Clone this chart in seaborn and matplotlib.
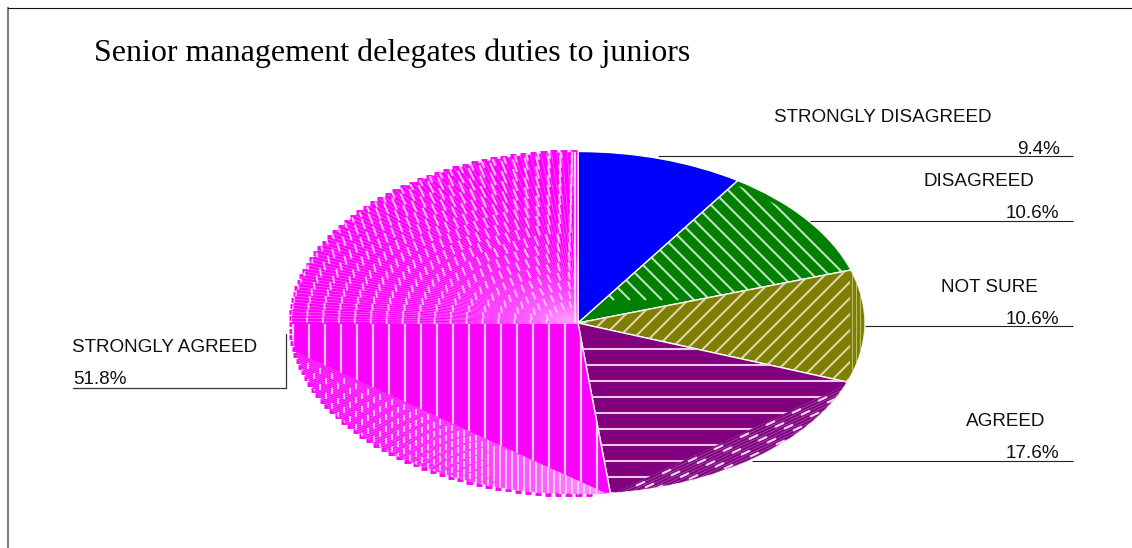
import numpy as np
import matplotlib
matplotlib.use("Agg")
import matplotlib.pyplot as plt
from matplotlib.collections import LineCollection
from matplotlib.patches import Polygon
import seaborn as sns

title = "Senior management delegates duties to juniors"
categories = ["STRONGLY DISAGREED", "DISAGREED", "NOT SURE", "AGREED", "STRONGLY AGREED"]
shares = [9.4, 10.6, 10.6, 17.6, 51.8]
share_labels = ["9.4%", "10.6%", "10.6%", "17.6%", "51.8%"]
colors = sns.color_palette(["#0000ff", "#008000", "#808000", "#800080", "#ff00ff"])

sns.set_theme(style="white")
W, H = 1132, 548
DPI = 100
fig = plt.figure(figsize=(W / DPI, H / DPI), dpi=DPI, facecolor="white")

# frame axes whose data coordinates are the picture's pixels
L, T = 8.0, 7.5
ax = fig.add_axes([L / W, 0, 1 - L / W, 1 - T / H])
ax.set_xlim(L, W)
ax.set_ylim(H, T)
ax.set_xticks([]); ax.set_yticks([])
sns.despine(ax=ax, top=False, left=False, right=True, bottom=True)
ax.spines["top"].set_color("#111111"); ax.spines["top"].set_linewidth(0.8)
ax.spines["left"].set_color("#808080"); ax.spines["left"].set_linewidth(1.5)

ax.text(94, 53, title, family="Liberation Serif", fontsize=23.0, color="black", va="center", ha="left")

SANS = "Liberation Sans"
FS = 13.6
label_spec = [
    (774, 118, "left", 1060, 149, 658, 156, 1073),
    (979, 182, "center", 1059, 213, 805, 220.5, 1073),
    (989, 288, "center", 1059, 319, 864, 326, 1073),
    (1006, 421, "center", 1059, 454, 752, 460.5, 1073),
]
for cat, lab, (lx, ly, lha, px, py, x0, yy, x1) in zip(categories, share_labels, label_spec):
    ax.text(lx, ly, cat, family=SANS, fontsize=FS, color="#111111", ha=lha, va="center")
    ax.text(px, py, lab, family=SANS, fontsize=FS, color="#111111", ha="right", va="center")
    ax.plot([x0, x1], [yy, yy], color="#222222", lw=0.8, solid_capstyle="butt")
ax.text(72, 348, categories[4], family=SANS, fontsize=FS, color="#111111", ha="left", va="center")
ax.text(73, 379, share_labels[4], family=SANS, fontsize=FS, color="#111111", ha="left", va="center")
ax.plot([73, 286, 286], [388, 388, 334], color="#333333", lw=0.9)

# elliptical pie
CX, CY, RX, RY = 578, 323, 287.0, 171.5
PAD = 1.25
pie_ax = fig.add_axes([(CX - PAD * RX) / W, 1 - (CY + PAD * RY) / H, 2 * PAD * RX / W, 2 * PAD * RY / H])
wedges, _ = pie_ax.pie(shares, colors=colors, startangle=90, counterclock=False, radius=1,
                       wedgeprops=dict(edgecolor="white", linewidth=1.0))
pie_ax.set_aspect("auto")
pie_ax.set_xlim(-PAD, PAD)
pie_ax.set_ylim(-PAD, PAD)
pie_ax.patch.set_alpha(0)
for w in wedges:
    w.set_zorder(1)

px_tr = ax.transData
PALE = "#ecdcc8"


def clipped(segs, color, lw, alpha, region, z=2):
    lc = LineCollection(segs, colors=color, linewidths=lw, alpha=alpha, transform=px_tr,
                        zorder=z, capstyle="butt")
    pie_ax.add_collection(lc, autolim=False)
    poly = Polygon(region, closed=True, transform=px_tr, fill=False, lw=0)
    pie_ax.add_patch(poly)
    poly.set_visible(False)
    lc.set_clip_path(poly)
    return lc


def full_wedge(i, scale=1.0, steps=120):
    """Pixel outline of wedge i, from the shares."""
    c = np.cumsum([0] + shares) / sum(shares) * 2 * np.pi
    t = np.linspace(c[i], c[i + 1], steps)
    return np.vstack([[CX, CY], np.column_stack([CX + scale * RX * np.sin(t), CY - scale * RY * np.cos(t)])])


def cut(pts, a, b, keep_side):
    """Clip a polygon by the line a-b; +1 keeps the positive cross-product side."""
    out = []
    a = np.array(a, float); b = np.array(b, float)
    d = b - a
    side = lambda p: keep_side * (d[0] * (p[1] - a[1]) - d[1] * (p[0] - a[0]))
    n = len(pts)
    for i in range(n):
        p, q = pts[i], pts[(i + 1) % n]
        sp, sq = side(p), side(q)
        if sp >= 0:
            out.append(p)
        if sp * sq < 0:
            out.append(p + (q - p) * sp / (sp - sq))
    return np.array(out)


# green: backslash stripes reaching nearly to the rim
clipped([[(o, 150), (o + 150, 300)] for o in np.arange(-800, 1400, 16)], "#d8ead8", 1.5, 0.9, full_wedge(1, 0.975))

# olive: forward stripes, with a dense outer band
o_in = cut(full_wedge(2), (850, 250), (850, 400), 1)
o_out = cut(full_wedge(2), (850, 400), (850, 250), 1)
clipped([[(o, 390), (o + 130, 260)] for o in np.arange(500, 1100, 16) + 2], PALE, 1.5, 0.9, o_in)
clipped([[(x, 260), (x, 390)] for x in np.arange(852, 866, 4)], "#d8d8a0", 0.7, 0.7, o_out)

# purple: horizontal stripes above a chord, dashed rows below it
p_in = cut(full_wedge(3), (612, 494), (848, 384), -1)
p_out = cut(full_wedge(3), (612, 494), (848, 384), 1)
clipped([[(570, y), (860, y)] for y in np.arange(349, 500, 16)], "#e6cfe6", 1.5, 1, p_in)
slope = (494 - 384) / (612 - 848)
clipped([[(600, 494 + slope * (600 - 612) + d), (860, 494 + slope * (860 - 612) + d)]
         for d in np.arange(0, 36, 3)], "#b060b0", 0.5, 0.9, p_out)
rows = []
for row, dy in enumerate([3, 9, 15, 21, 27]):
    for x in np.arange(610 + row * 9, 860, 26):
        rows.append([(x, 494 + slope * (x - 612) + dy), (x + 9, 494 + slope * (x + 9 - 612) + dy)])
clipped(rows, "#ecd4ec", 1.6, 1, p_out)

# magenta: vertical stripes in the middle
apex = np.array([607.0, 494.0])
mid = cut(cut(full_wedge(4), (287, 348), (607, 494), -1), (280, 324), (620, 324), 1)
clipped([[(x, 310), (x, 500)] for x in np.arange(293, 600, 16)], "#fbd0fb", 1.6, 1, mid)

# lower band: rows converging on the apex, with short upright dashes
band = cut(cut(full_wedge(4), (287, 348), (607, 494), 1), (280, 324), (620, 324), 1)
clipped([[tuple(apex), (apex[0] - 340, apex[1] - 340 * m)] for m in np.linspace(0.52, 0.02, 70)],
        "#ff8cff", 0.4, 0.8, band)
dashes = []
for k, m in enumerate(np.linspace(0.456, 0.02, 17)[1:]):
    for x in np.arange(596 - (k % 2) * 6, 280, -12):
        y = apex[1] - (apex[0] - x) * m
        dashes.append([(x, y - 3.0), (x, y + 3.0)])
clipped(dashes, "#fbc8fb", 1.4, 1, band)

# upper-left fan: light radial lines with dashes on concentric ellipses
upper = cut(full_wedge(4), (280, 324), (620, 324), -1)
clipped([[(CX, CY), (CX + RX * np.sin(t), CY - RY * np.cos(t))] for t in np.linspace(np.pi, 2 * np.pi, 170)],
        "#ff9cff", 0.35, 0.9, upper)
fd = []
for k in range(2, 19):
    s = k / 18
    n = int(2.1 * k) + 3
    for t in np.linspace(1.5 * np.pi, 2 * np.pi, n)[:-1] + 0.02:
        x = CX + RX * s * np.sin(t)
        y = CY - RY * s * np.cos(t)
        r = (x - CX) / (y - CY - 0.01)
        tilt = r / (1 + r * r)
        half = 3.0 + 3.5 * abs(np.cos(t)) * s
        fd.append([(x - half * tilt, y - half), (x + half * tilt, y + half)])
clipped(fd, "#fbc4fb", 1.4, 1, upper)
clipped([[(575, 152), (575, 323)]], "#fbd0fb", 1.5, 1, upper)

# stepped rim on the magenta slice, as in the coarse rendering of the source
rim = []
for t in np.linspace(np.radians(178), np.radians(359), 90):
    x = CX + RX * np.sin(t)
    y = CY - RY * np.cos(t)
    rim.append([(x + 4, y), (x - 2.5, y)])
page = [(0, 0), (W, 0), (W, H), (0, H)]
clipped(rim, colors[4], 3.5, 1, page, z=1.5)

fig.savefig("out.png", dpi=DPI, facecolor="white")
